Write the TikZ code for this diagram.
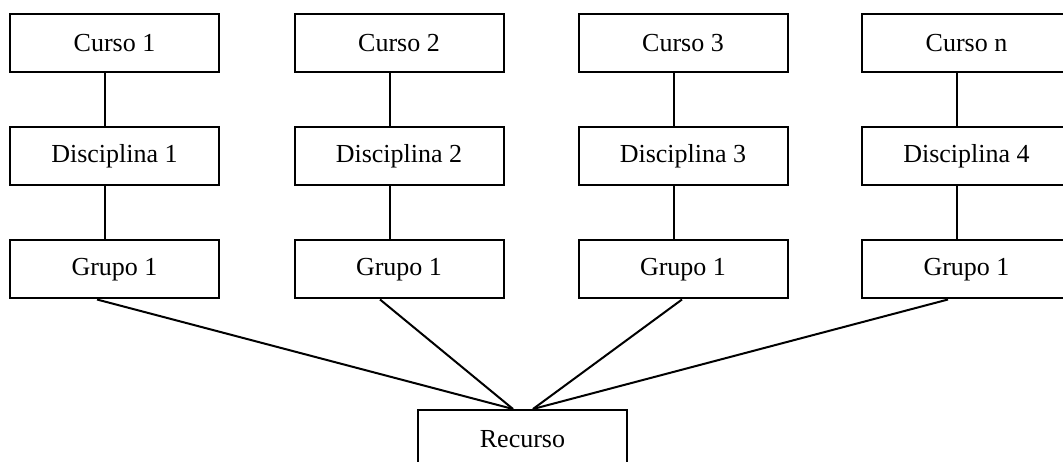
\documentclass[tikz,border=0pt]{standalone}
\usepackage{fontspec}
\setmainfont{Liberation Serif}
\begin{document}
\begin{tikzpicture}[x=1pt,y=-1pt,
  box/.style={draw,rectangle,line width=2pt,minimum width=209pt,minimum height=58pt,
    inner sep=0pt,font=\fontsize{26}{30}\selectfont},
  link/.style={line width=2pt}]
\useasboundingbox (0,0) rectangle (1063,462);
\clip (0,0) rectangle (1063,462);
% course columns
\foreach \i/\x/\c/\d in {1/114.5/1/1, 2/399/2/2, 3/683/3/3, 4/966.5/n/4}{
  \node[box] (c\i) at (\x,43) {Curso \c};
  \node[box] (d\i) at (\x,156) {Disciplina \d};
  \node[box] (g\i) at (\x,269.5) {Grupo 1};
  \draw[link] ([xshift=-9.5pt]c\i.south) -- ([xshift=-9.5pt]d\i.north);
  \draw[link] ([xshift=-9.5pt]d\i.south) -- ([xshift=-9.5pt]g\i.north);
}
\node[box] (r) at (522.5,439) {Recurso};
% groups converge on the shared resource
\draw[link] ([xshift=-17.5pt]g1.south) -- ([xshift=-9.5pt]r.north);
\draw[link] ([xshift=-19pt]g2.south) -- ([xshift=-9.5pt]r.north);
\draw[link] ([xshift=-1pt]g3.south) -- ([xshift=10.5pt]r.north);
\draw[link] ([xshift=-18.5pt]g4.south) -- ([xshift=10.5pt]r.north);
\end{tikzpicture}
\end{document}
